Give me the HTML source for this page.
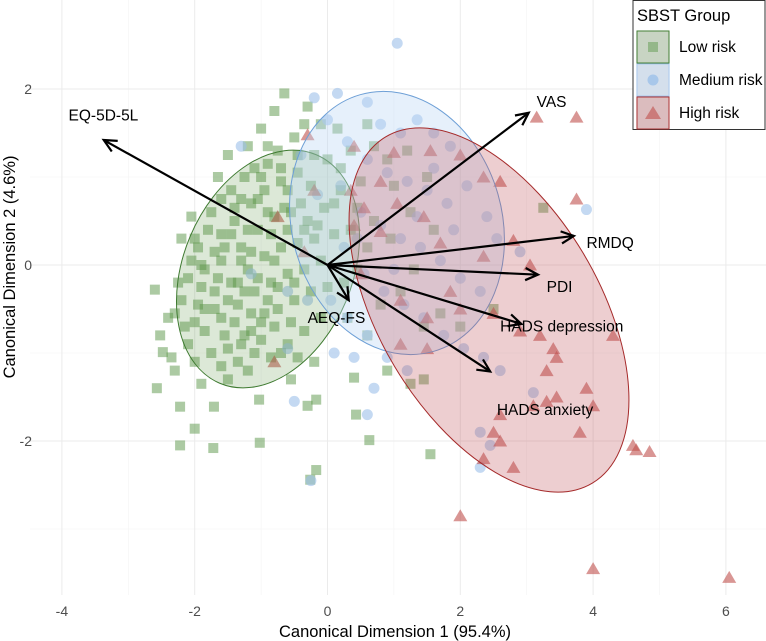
<!DOCTYPE html>
<html><head><meta charset="utf-8"><style>
body{margin:0;background:#fff}
svg{display:block;font-family:"Liberation Sans",sans-serif}
</style></head><body>
<svg id="c" width="766" height="641" viewBox="0 0 766 641"></svg>
<script>
const xTicks=[-4,-2,0,2,4,6];
const yTicks=[-2,0,2];
const xMinor=[-3,-1,1,3,5];
const yMinor=[-3,-1,1];
const lowRisk=[[-2.6,-0.28],[-2.52,-0.8],[-2.48,-0.99],[-2.57,-1.4],[-2.22,-1.61],[-1.71,-1.61],[-2.0,-1.86],[-2.22,-2.05],[-1.72,-2.08],[-1.02,-2.02],[-1.03,-1.53],[-0.17,-2.33],[-0.26,-2.44],[-0.17,-1.53],[0.43,-1.7],[0.4,-1.28],[0.63,-1.99],[1.55,-2.15],[-0.3,-1.6],[-0.55,-1.3],[-0.2,-1.1],[-2.3,-1.2],[-2.4,-0.6],[-2.35,-1.05],[-1.9,-1.35],[-1.5,-1.3],[-1.2,-1.2],[-1.5,1.25],[-1.65,1.0],[-1.2,1.35],[-1.0,1.55],[-0.8,1.75],[-0.65,1.95],[-0.3,1.8],[-0.35,1.6],[-0.1,1.6],[-0.5,1.45],[-0.75,1.3],[-0.9,1.15],[-1.1,1.1],[-1.25,1.0],[-1.45,0.85],[-1.75,0.6],[-2.05,0.55],[-2.2,0.3],[-1.95,0.2],[-1.6,0.35],[-1.4,0.5],[-1.15,0.7],[-0.95,0.85],[-0.7,0.95],[-0.45,1.05],[-0.25,0.9],[0.0,1.2],[0.15,1.55],[0.35,1.3],[0.5,0.95],[0.2,0.85],[-0.05,0.65],[-0.3,0.5],[-0.55,0.6],[-0.8,0.55],[-1.05,0.4],[-1.3,0.2],[-1.6,0.05],[-1.85,-0.05],[-2.1,-0.15],[-2.2,-0.4],[-1.95,-0.45],[-1.7,-0.3],[-1.45,-0.2],[-1.2,-0.05],[-0.95,0.1],[-0.7,0.2],[-0.45,0.25],[-0.2,0.3],[0.1,0.35],[0.35,0.4],[0.6,0.2],[-0.1,0.05],[-0.35,-0.05],[-0.6,-0.1],[-0.85,-0.2],[-1.1,-0.3],[-1.35,-0.45],[-1.6,-0.6],[-1.85,-0.75],[-2.1,-0.9],[-2.0,-0.65],[-1.75,-1.0],[-1.5,-0.95],[-1.25,-0.8],[-1.0,-0.65],[-0.75,-0.5],[-0.5,-0.4],[-0.25,-0.3],[0.0,-0.25],[0.25,-0.2],[0.45,-0.05],[-0.1,-0.6],[-0.35,-0.75],[-0.6,-0.9],[-0.85,-1.05],[-1.1,-1.0],[-1.35,-1.1],[-1.6,-1.15],[-2.0,-1.1],[-0.9,-0.4],[-1.05,-0.15],[-1.3,0.05],[-1.55,0.2],[-1.8,0.4],[-1.2,0.4],[-0.9,0.6],[-0.6,0.4],[-0.4,0.7],[-1.0,1.0],[-0.7,1.1],[-1.3,0.75],[-0.2,1.25],[0.2,1.1],[0.45,0.65],[0.7,0.5],[0.9,1.2],[1.0,0.9],[1.2,1.3],[1.5,1.0],[1.25,0.6],[1.6,0.4],[0.95,0.3],[1.3,-0.05],[1.1,-0.3],[0.8,-0.45],[1.45,-0.7],[1.7,-0.55],[0.9,-1.2],[1.45,-1.3],[1.25,-1.35],[2.0,-0.7],[0.6,-0.8],[0.3,-0.6],[-2.3,-0.55],[-2.15,-0.7],[-1.7,-0.5],[-1.4,-0.65],[-1.15,-0.55],[-1.9,-0.25],[-1.5,-0.4],[-2.05,0.05],[-1.7,0.15],[-1.25,-0.3],[-0.8,-0.7],[-0.55,-0.65],[-1.0,-0.85],[-1.3,-0.9],[-0.7,-1.0],[-0.45,-1.05],[-1.55,-0.8],[-1.85,-0.5],[-2.0,0.3],[-1.4,0.65],[-0.15,0.45],[0.1,0.7],[-0.6,0.85],[-0.9,1.35],[-0.45,1.25],[0.6,1.6],[0.7,1.35],[2.5,-0.5],[3.25,0.65],[-1.15,0.15],[-0.95,-0.55],[-1.45,0.35],[-0.75,-0.25],[-1.65,-0.15],[-1.05,0.75],[-0.65,0.65],[-1.35,-0.2],[-0.8,0.05],[-1.9,0.0],[-1.6,0.75],[-1.15,-0.75],[-0.35,0.4],[-0.5,-0.2],[-2.25,-0.2],[-0.85,0.35]];
const mediumRisk=[[1.05,2.52],[0.15,1.95],[0.0,1.65],[-0.2,1.9],[0.6,1.85],[0.8,1.6],[1.1,1.5],[1.35,1.65],[1.6,1.5],[1.85,1.35],[0.3,1.4],[0.6,1.2],[0.9,1.05],[1.2,0.95],[1.5,0.85],[1.8,0.7],[2.1,0.9],[2.4,0.55],[0.2,0.9],[0.5,0.6],[0.8,0.45],[1.1,0.3],[1.4,0.2],[1.7,0.05],[2.0,-0.15],[2.3,-0.3],[0.25,0.2],[0.55,-0.1],[0.85,-0.3],[1.15,-0.45],[1.45,-0.6],[1.75,-0.8],[2.05,-0.95],[0.3,-0.6],[0.6,-0.8],[0.9,-1.05],[1.2,-1.2],[0.4,-1.05],[0.1,-1.0],[-0.3,-0.4],[-0.6,-0.95],[-0.15,0.8],[-0.4,1.25],[-1.3,1.35],[2.35,-1.05],[2.6,-1.2],[3.1,-1.45],[2.3,-1.9],[2.3,-2.3],[2.45,-2.05],[3.9,0.63],[2.55,0.3],[2.9,0.15],[1.9,0.4],[-0.25,-2.45],[0.7,-1.4],[1.0,-0.05],[0.45,0.3],[1.35,0.55],[1.6,1.1],[0.05,-0.4],[-0.6,-0.3],[-1.15,-0.1],[-0.5,-1.55],[0.6,-1.7]];
const highRisk=[[3.15,1.68],[3.75,1.68],[-0.3,1.48],[0.4,1.35],[1.0,1.28],[1.55,1.3],[2.0,1.25],[2.35,1.0],[2.6,0.95],[0.35,0.85],[0.8,0.95],[0.55,0.65],[1.05,0.7],[1.45,0.55],[0.8,0.38],[1.7,0.25],[2.35,0.1],[2.8,0.28],[3.05,0.0],[3.75,0.75],[0.5,-0.1],[1.1,-0.4],[1.5,-0.6],[2.0,-0.5],[2.5,-0.55],[2.9,-0.75],[3.2,-0.8],[3.4,-0.95],[3.45,-1.05],[3.3,-1.55],[3.45,-1.5],[3.1,-1.6],[2.6,-1.7],[2.6,-2.0],[2.5,-1.9],[3.3,-1.2],[3.9,-1.4],[4.3,-0.8],[4.0,-1.6],[3.8,-1.9],[2.8,-2.3],[2.35,-2.2],[4.6,-2.05],[4.65,-2.1],[4.85,-2.12],[2.0,-2.85],[4.0,-3.45],[6.05,-3.55],[1.1,-0.9],[1.5,-0.95],[1.85,-0.3],[-0.8,-1.1],[-0.75,0.55],[-0.2,0.85],[0.4,0.45],[-0.35,0.15]];
const arrowNames=["EQ-5D-5L","VAS","RMDQ","PDI","HADS depression","HADS anxiety","AEQ-FS"];
const arrowX=[-3.37,3.03,3.71,3.17,2.92,2.45,0.32];
const arrowY=[1.42,1.73,0.33,-0.11,-0.67,-1.21,-0.40];
const labelX=[-3.9,3.15,3.9,3.3,2.6,2.55,-0.3];
const labelY=[1.7,1.85,0.25,-0.25,-0.7,-1.65,-0.6];

const NS="http://www.w3.org/2000/svg";
const svg=document.getElementById('c');
const X=v=>327.5+v*66.4, Y=v=>265-v*88;
function el(t,a,p){const e=document.createElementNS(NS,t);for(const k in a)e.setAttribute(k,a[k]);(p||svg).appendChild(e);return e;}
xMinor.forEach(v=>{const l=el('line',{x1:X(v),x2:X(v),y1:0,y2:595,stroke:'#f4f4f4','stroke-width':0.6});});
yMinor.forEach(v=>{const l=el('line',{x1:30,x2:766,y1:Y(v),y2:Y(v),stroke:'#f4f4f4','stroke-width':0.6});});
xTicks.forEach(v=>{const l=el('line',{x1:X(v),x2:X(v),y1:0,y2:595,stroke:'#ebebeb','stroke-width':1});
const t=el('text',{x:X(v),y:616,'text-anchor':'middle','font-size':14,fill:'#4d4d4d'});t.textContent=v;});
yTicks.forEach(v=>{const l=el('line',{x1:30,x2:766,y1:Y(v),y2:Y(v),stroke:'#ebebeb','stroke-width':1});
const t=el('text',{x:32,y:Y(v)+5,'text-anchor':'end','font-size':14,fill:'#4d4d4d'});t.textContent=v;});
lowRisk.forEach(p=>{const r=el('rect',{x:X(p[0])-5,y:Y(p[1])-5,width:10,height:10,fill:'#5a9648','fill-opacity':0.5});});
mediumRisk.forEach(p=>{const r=el('circle',{cx:X(p[0]),cy:Y(p[1]),r:5.5,fill:'#9cc0ea','fill-opacity':0.6});});
highRisk.forEach(p=>{const x=X(p[0]),y=Y(p[1]);const r=el('polygon',{points:`${x},${y-6.5} ${x-7},${y+5.5} ${x+7},${y+5.5}`,fill:'#c0504d','fill-opacity':0.6});});
const ells=[['low-risk-ellipse',268,269,84.4,124,22.9,'rgba(95,150,75,0.22)','#3e7a30'],['medium-risk-ellipse',397,223,105,133.5,-16,'rgba(190,215,245,0.38)','#6d9fd6'],['high-risk-ellipse',489,310,110,201.6,-30.8,'rgba(190,80,85,0.28)','#a52a2a']];
ells.forEach(e=>{const g=el('ellipse',{cx:e[1],cy:e[2],rx:e[3],ry:e[4],transform:`rotate(${e[5]} ${e[1]} ${e[2]})`,fill:e[6],stroke:e[7],'stroke-width':1});});
arrowNames.forEach((n,i)=>{const x0=X(0),y0=Y(0),x1=X(arrowX[i]),y1=Y(arrowY[i]);
const a=Math.atan2(y1-y0,x1-x0),h=14,s=0.45;
const g=el('g',{});
el('line',{x1:x0,y1:y0,x2:x1,y2:y1,stroke:'#000','stroke-width':2.2},g);
el('polyline',{points:`${x1-h*Math.cos(a-s)},${y1-h*Math.sin(a-s)} ${x1},${y1} ${x1-h*Math.cos(a+s)},${y1-h*Math.sin(a+s)}`,fill:'none',stroke:'#000','stroke-width':2.2},g);
const t=el('text',{x:X(labelX[i]),y:Y(labelY[i])+5,'font-size':15.5,fill:'#000'});t.textContent=n;});
let t=el('text',{x:395,y:637,'text-anchor':'middle','font-size':16.5,fill:'#000'});t.textContent='Canonical Dimension 1 (95.4%)';
t=el('text',{x:0,y:0,'text-anchor':'middle','font-size':16.5,fill:'#000',transform:'translate(15,267) rotate(-90)'});t.textContent='Canonical Dimension 2 (4.6%)';
const lg=el('g',{});
el('rect',{x:633,y:0.5,width:132,height:129,fill:'#fff',stroke:'#333','stroke-width':1},lg);
t=el('text',{x:637,y:21,'font-size':16.5,fill:'#000'},lg);t.textContent='SBST Group';
const keys=[['Low risk','rgba(95,150,75,0.22)','#3e7a30'],['Medium risk','rgba(190,215,245,0.45)','#9cc0ea'],['High risk','rgba(190,80,85,0.28)','#a52a2a']];
keys.forEach((k,i)=>{const y=31+i*33;const g=el('g',{},lg);
el('rect',{x:637,y:y,width:32,height:32,fill:'#e6e6e6',stroke:k[2],'stroke-width':1},g);
el('rect',{x:637,y:y,width:32,height:32,fill:k[1]},g);
const cx=653,cy=y+16;
if(i==0)el('rect',{x:cx-5,y:cy-5,width:10,height:10,fill:'#5f9a4f','fill-opacity':0.5},g);
if(i==1)el('circle',{cx:cx,cy:cy,r:5.5,fill:'#9cc0ea','fill-opacity':0.8},g);
if(i==2)el('polygon',{points:`${cx},${cy-7} ${cx-8},${cy+6} ${cx+8},${cy+6}`,fill:'#c0504d','fill-opacity':0.6},g);
const tt=el('text',{x:679,y:y+21,'font-size':15.5,fill:'#000'},g);tt.textContent=k[0];});
</script>
</body></html>
